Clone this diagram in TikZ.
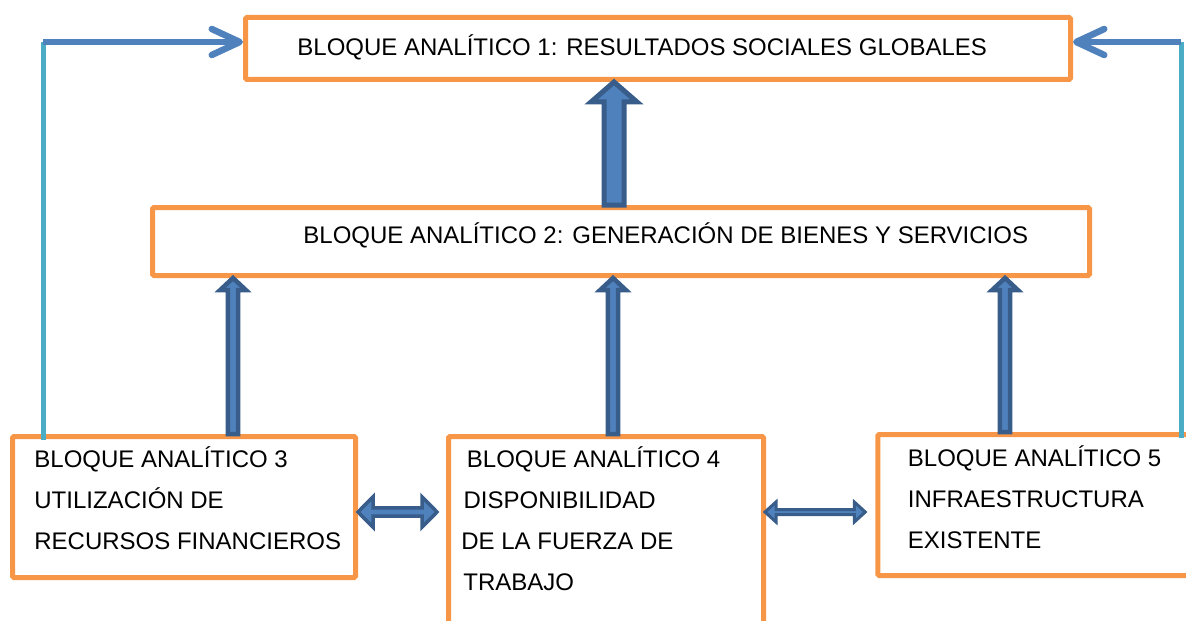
\documentclass[tikz,border=0pt]{standalone}
\usepackage{fontspec}
\setmainfont{Liberation Sans}
\usetikzlibrary{arrows.meta,calc}
\definecolor{boxorange}{HTML}{F79646}
\definecolor{arrowfill}{HTML}{4F81BD}
\definecolor{arrowline}{HTML}{385D8A}
\definecolor{linkblue}{HTML}{4F81BD}
\definecolor{linkcyan}{HTML}{4BACC6}
\tikzset{
    block/.style = {draw=boxorange, line width=2.5pt, rectangle,
        inner sep=0pt, rounded corners=0.75pt},
    btext/.style = {anchor=base west, inner sep=0pt, align=left,
        font=\fontsize{12}{20.5}\selectfont},
    upblock/.style n args = {3}{to path={let \p1=(\tikztostart), \p2=(\tikztotarget) in
        (\x1-#1,\y1) -- (\x1-#1,\y2-#3) -- (\x1-#2,\y2-#3) -- (\x1,\y2)
        -- (\x1+#2,\y2-#3) -- (\x1+#1,\y2-#3) -- (\x1+#1,\y1) -- cycle}},
    twoblock/.style n args = {3}{to path={let \p1=(\tikztostart), \p2=(\tikztotarget) in
        (\x1,\y1) -- (\x1+#3,\y1+#2) -- (\x1+#3,\y1+#1) -- (\x2-#3,\y1+#1)
        -- (\x2-#3,\y1+#2) -- (\x2,\y1) -- (\x2-#3,\y1-#2) -- (\x2-#3,\y1-#1)
        -- (\x1+#3,\y1-#1) -- (\x1+#3,\y1-#2) -- cycle}},
    bigup/.style = {upblock={5pt}{11.5pt}{10pt}, draw=arrowline,
        fill=arrowfill, line width=2.5pt},
    smallup/.style = {upblock={2.6pt}{6.4pt}{6pt}, draw=arrowline,
        fill=arrowfill, line width=2.25pt},
    bigtwo/.style = {twoblock={2.1pt}{7.6pt}{7.5pt}, draw=arrowline,
        fill=arrowfill, line width=1.75pt},
    smalltwo/.style = {twoblock={1.25pt}{5pt}{5.5pt}, draw=arrowline,
        fill=arrowfill, line width=1.5pt},
    cyanlink/.style = {draw=linkcyan, line width=2.5pt},
    bluelink/.style = {draw=linkblue, line width=3.25pt,
        -{Straight Barb[round,length=14pt,width=13pt]}}
}

\begin{document}
\begin{tikzpicture}[x=0.5pt, y=-0.5pt]
    \useasboundingbox (0,0) rectangle (1186,620);
    \clip (0,0) rectangle (1186,620);
    \node [block, minimum width=412.5pt, minimum height=31pt] (res) at (658,48.5) {};
    \node [block, minimum width=468.5pt, minimum height=34pt] (gen) at (621,241.5) {};
    \node [block, minimum width=171.5pt, minimum height=70.5pt] (fin) at (184,507) {};
    \node [block, minimum width=157.5pt, minimum height=111.5pt] (trab) at (606,548) {};
    \node [block, minimum width=161.25pt, minimum height=70.5pt] (infra) at (1039,505) {};

    \node [btext] (txt1) at (297,56) {BLOQUE ANALÍTICO 1: RESULTADOS SOCIALES GLOBALES};
    \node [btext] (txt2) at (303,243.3) {BLOQUE ANALÍTICO 2: GENERACIÓN DE BIENES Y SERVICIOS};
    \node [btext] (txt3) at (34,549.3) {BLOQUE ANALÍTICO 3\\UTILIZACIÓN DE\\RECURSOS FINANCIEROS};
    \node [btext] (txt4) at (461,590) {\hspace*{2.75pt}BLOQUE ANALÍTICO 4\\\hspace*{1.1pt}DISPONIBILIDAD\\DE LA FUERZA DE\\\hspace*{1pt}TRABAJO};
    \node [btext] (txt5) at (907.5,548.3) {BLOQUE ANALÍTICO 5\\INFRAESTRUCTURA\\EXISTENTE};

    \draw [bigup] (614,0 |- gen.north) to (614,0 |- res.south);
    \draw [smallup] (233,0 |- fin.north) to (233,0 |- gen.south);
    \draw [smallup] (613,0 |- trab.north) to (613,0 |- gen.south);
    \draw [smallup] (1005,0 |- infra.north) to (1005,0 |- gen.south);
    \draw [bigtwo] ($(fin.east)+(0,5)$) to ($(trab.west |- fin.east)+(-9,5)$);
    \draw [smalltwo] ($(trab.east |- fin.east)+(-1,5)$) to ($(infra.west |- fin.east)+(-10,5)$);

    \coordinate (lturn) at (43,42);
    \coordinate (rturn) at (1181,42);
    \draw [cyanlink] ([yshift=-3pt]lturn |- fin.north) -- (lturn);
    \draw [bluelink] (lturn) -- (lturn -| res.west);
    \draw [cyanlink] ([yshift=-3pt]rturn |- infra.north) -- (rturn);
    \draw [bluelink] (rturn) -- (rturn -| res.east);
\end{tikzpicture}
\end{document}
